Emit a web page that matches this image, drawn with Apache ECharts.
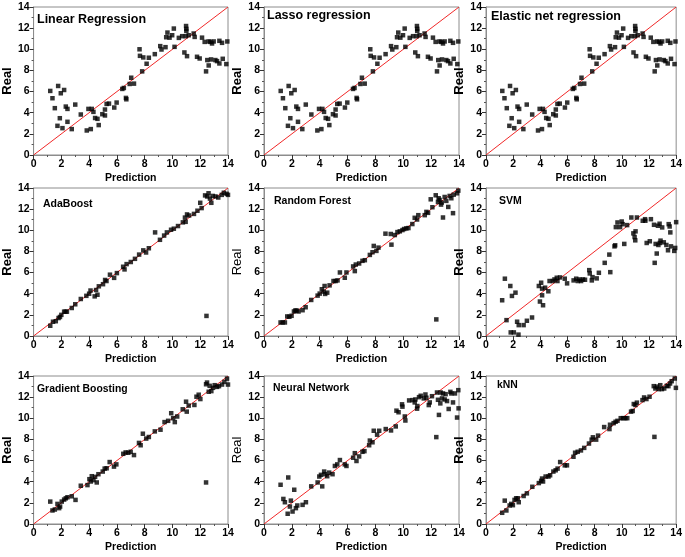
<!DOCTYPE html>
<html><head><meta charset="utf-8">
<script src="https://cdn.jsdelivr.net/npm/echarts@6/dist/echarts.min.js"></script>
<style>html,body{margin:0;padding:0;background:#fff}#c{width:685px;height:557px}</style>
</head><body><div id="c"></div>
<script>
const axisTicks = [0, 2, 4, 6, 8, 10, 12, 14];
const diagonal = [0, 14];

const linearX = [1.2,1.36,1.53,1.72,1.77,1.89,1.96,2.08,2.2,2.32,2.44,2.44,2.75,3.0,3.4,3.83,3.95,4.12,4.19,4.31,4.43,4.6,4.69,4.95,5.14,5.14,5.26,5.43,5.81,5.98,6.39,6.5,6.65,6.68,6.92,7.03,7.23,7.63,7.66,7.82,7.9,8.14,8.3,8.73,9.12,9.21,9.5,9.55,9.64,9.79,9.98,10.1,10.15,10.46,10.7,10.86,10.96,10.98,11.0,11.0,11.05,11.17,11.53,11.6,11.77,11.96,12.13,12.32,12.42,12.51,12.61,12.61,12.73,12.78,12.85,12.97,13.09,13.21,13.38,13.38,13.57,13.62,13.88,13.95];
const linearY = [6.06,5.37,4.43,2.76,6.53,3.48,5.84,2.54,6.15,4.58,4.36,3.14,2.45,4.77,3.83,2.32,4.36,2.45,4.36,4.08,3.5,3.42,2.83,3.86,3.74,4.3,4.83,4.86,4.49,4.96,6.25,6.34,5.4,5.27,6.72,7.31,6.75,10.0,9.38,7.91,9.23,8.63,9.2,9.54,10.3,9.98,10.2,11.14,11.58,11.1,11.33,11.96,10.23,11.08,11.24,9.7,11.24,12.2,11.93,11.74,9.35,11.33,11.49,11.17,9.29,9.13,11.1,10.7,7.91,8.98,10.74,8.47,10.7,9.04,10.55,10.74,8.98,8.88,10.8,8.66,10.61,9.1,8.6,10.74];
const lassoX = linearX;
const lassoY = linearY;
const elasticX = linearX;
const elasticY = linearY;

const adaX = [1.2,1.4,1.6,1.8,1.9,2.0,2.2,2.3,2.4,2.75,3.0,3.4,3.8,4.0,4.1,4.4,4.5,4.6,4.7,5.0,5.15,5.25,5.5,5.8,6.0,6.45,6.55,6.7,7.0,7.3,7.6,7.9,8.1,8.3,8.75,9.1,9.4,9.6,9.9,10.1,10.4,10.75,10.9,10.95,11.05,11.2,11.55,11.8,12.0,12.1,12.35,12.45,12.5,12.6,12.7,12.8,12.9,13.1,13.3,13.55,13.7,13.9,14.0];
const adaY = [0.97,1.35,1.4,1.7,1.8,2.0,2.3,2.3,2.3,2.65,3.0,3.5,3.8,4.0,4.3,3.75,4.35,3.9,4.7,4.9,5.3,5.2,5.8,5.5,5.95,6.55,6.3,6.8,7.0,7.3,7.7,8.1,7.9,8.3,9.8,9.1,9.5,9.8,10.05,10.15,10.4,10.75,11.2,10.8,11.5,11.4,11.55,11.85,12.6,12.1,13.3,1.9,13.2,13.5,13.0,12.6,13.25,13.2,13.1,13.35,13.55,13.45,13.35];

const rfX = [1.19,1.34,1.5,1.67,1.82,1.98,2.15,2.25,2.34,2.48,2.77,2.99,3.39,3.85,4.0,4.15,4.28,4.35,4.39,4.54,4.71,4.99,5.14,5.28,5.45,5.8,5.92,6.4,6.52,6.59,6.83,7.07,7.24,7.6,7.79,7.88,8.07,8.22,8.72,9.1,9.15,9.39,9.58,9.75,9.94,10.06,10.22,10.37,10.65,10.82,10.99,11.08,11.54,11.66,11.78,11.97,12.09,12.33,12.37,12.49,12.54,12.61,12.71,12.76,12.85,12.97,13.09,13.23,13.33,13.45,13.57,13.62,13.86,13.95];
const rfY = [1.28,1.28,1.28,1.85,1.82,1.91,2.32,2.41,2.41,2.32,2.44,2.72,3.41,3.82,4.01,4.42,4.2,4.73,3.98,4.1,4.79,5.2,5.2,5.26,6.01,5.51,6.01,6.58,6.14,6.76,6.86,7.11,7.17,7.67,7.92,8.52,8.05,8.36,9.68,9.65,8.64,9.55,9.83,9.9,10.02,10.12,10.18,10.21,10.59,11.18,11.02,11.43,11.43,11.74,11.65,12.93,12.18,13.31,1.57,12.68,13.03,12.87,12.43,12.62,11.21,13.15,12.78,12.21,13.25,13.03,11.62,13.37,13.5,13.75];

const svmX = [1.19,1.39,1.51,1.79,1.82,1.91,2.05,2.17,2.29,2.39,2.41,2.77,3.01,3.39,3.89,3.97,4.06,4.13,4.13,4.2,4.35,4.59,4.68,4.92,5.04,5.21,5.26,5.45,5.8,5.97,6.45,6.64,6.76,6.88,7.0,7.14,7.29,7.6,7.64,7.79,7.84,8.15,8.31,8.74,9.08,9.15,9.46,9.51,9.56,9.68,9.87,9.99,10.06,10.18,10.39,10.7,10.85,10.94,10.99,11.01,11.11,11.54,11.71,11.73,11.83,12.06,12.14,12.37,12.42,12.49,12.57,12.66,12.69,12.78,12.8,12.85,12.97,13.09,13.28,13.4,13.45,13.52,13.57,13.62,13.86,13.93,14.0];
const svmY = [3.38,5.42,1.5,4.73,0.34,3.79,0.34,4.1,1.35,0.13,1.03,1.03,1.44,1.75,4.73,3.26,5.04,4.48,3.85,2.91,4.57,4.23,5.2,5.2,5.35,5.51,5.2,5.54,5.42,4.98,5.26,5.42,5.2,5.35,5.2,5.35,5.32,6.23,5.92,5.26,5.57,5.45,5.98,6.92,7.7,6.04,8.48,8.58,10.3,10.74,10.3,10.83,10.58,8.71,10.49,11.21,9.71,9.36,9.05,9.9,11.21,10.9,11.05,10.9,8.8,8.96,11.05,10.52,6.92,8.71,7.8,10.43,8.61,10.62,8.8,9.02,10.27,8.86,8.61,8.11,10.58,10.36,9.8,8.48,8.05,8.33,10.77];

const gbX = [1.2,1.36,1.53,1.72,1.84,1.91,2.03,2.2,2.32,2.44,2.75,3.02,3.4,3.88,4.02,4.12,4.19,4.31,4.43,4.55,4.67,4.98,5.12,5.26,5.48,5.79,5.96,6.46,6.63,6.82,6.99,7.23,7.59,7.71,7.87,8.11,8.3,8.73,9.14,9.43,9.69,9.91,10.05,10.17,10.34,10.74,10.98,11.03,11.17,11.58,11.73,11.89,12.01,12.42,12.42,12.49,12.61,12.68,12.8,12.92,13.04,13.21,13.35,13.57,13.74,13.93,14.0];
const gbY = [2.12,1.28,1.37,1.9,1.5,1.65,2.12,2.31,2.43,2.53,2.62,2.28,3.62,3.68,4.24,4.02,4.52,4.15,4.46,3.93,4.71,4.96,5.24,5.27,5.86,5.43,5.64,6.64,6.77,6.74,6.83,6.52,7.67,7.45,8.54,8.08,8.23,8.76,8.92,9.64,9.76,10.48,10.01,9.64,10.17,10.85,11.57,10.63,11.2,11.26,12.04,12.23,11.82,13.22,3.93,13.38,12.51,13.07,12.57,12.88,13.13,12.97,13.04,13.19,13.44,13.75,13.19];

const nnX = [1.19,1.39,1.5,1.74,1.7,1.86,1.93,2.05,2.17,2.29,2.39,2.77,3.01,3.39,3.85,3.97,4.09,4.18,4.32,4.37,4.54,4.68,4.92,5.09,5.26,5.45,5.8,5.92,6.4,6.52,6.64,6.83,7.07,7.21,7.55,7.6,7.79,7.88,8.12,8.27,8.74,9.12,9.46,9.51,9.66,9.91,9.94,10.11,10.15,10.42,10.66,10.82,10.87,10.99,11.01,11.13,11.25,11.47,11.59,11.66,11.83,11.9,12.06,12.37,12.42,12.49,12.56,12.66,12.68,12.78,12.85,12.97,13.04,13.14,13.26,13.38,13.45,13.57,13.71,13.86,13.95,13.97];
const nnY = [3.71,2.37,2.06,4.4,0.97,1.65,2.21,1.18,3.24,1.5,1.75,1.81,2.06,3.56,3.93,4.49,4.65,3.56,4.96,4.71,4.52,4.86,4.71,5.49,5.64,6.05,5.64,5.49,6.27,6.7,5.96,6.39,6.83,6.89,7.45,7.89,7.73,8.82,8.45,8.82,8.98,8.85,9.23,10.72,10.57,11.32,11.1,10.17,9.79,11.69,11.72,11.5,11.78,10.91,11.16,12.0,12.13,11.88,12.25,11.94,11.25,11.5,12.09,8.22,12.44,11.75,10.32,11.41,12.44,11.88,12.35,11.78,12.28,11.63,10.88,12.5,12.35,11.5,12.35,10.07,12.66,10.94];

const knnX = [1.19,1.38,1.5,1.74,1.86,1.98,2.1,2.22,2.34,2.41,2.77,3.01,3.41,3.89,4.06,4.13,4.2,4.39,4.6,4.72,4.96,5.13,5.27,5.46,5.8,5.96,6.44,6.56,6.75,6.99,7.23,7.58,7.78,7.87,8.11,8.25,8.7,9.09,9.13,9.4,9.54,9.68,9.92,10.09,10.26,10.4,10.68,10.8,10.88,11.0,11.11,11.52,11.64,11.81,12.04,12.35,12.4,12.47,12.59,12.71,12.83,12.95,13.12,13.31,13.43,13.55,13.67,13.9,13.98];
const knnY = [1.06,2.21,1.28,1.75,1.9,1.78,2.28,2.43,2.43,2.06,2.65,2.9,3.52,3.87,4.08,4.3,4.02,4.49,4.49,4.61,4.96,5.08,5.24,5.86,5.55,5.55,6.36,6.74,6.83,6.96,7.2,7.61,7.98,8.2,7.98,8.36,9.17,8.98,9.39,9.54,9.67,9.76,10.01,10.01,10.01,10.01,10.63,10.69,11.35,11.26,11.48,11.72,11.97,11.82,12.04,13.04,8.24,12.82,13.0,12.76,13.13,12.76,12.82,13.07,13.04,13.29,13.51,13.76,12.88];

const panelTitles = ['Linear Regression','Lasso regression','Elastic net regression','AdaBoost','Random Forest','SVM','Gradient Boosting','Neural Network','kNN'];
const panelData = [[linearX,linearY],[lassoX,lassoY],[elasticX,elasticY],[adaX,adaY],[rfX,rfY],[svmX,svmY],[gbX,gbY],[nnX,nnY],[knnX,knnY]];

// layout
const colLeft = [33, 264, 486];
const rowTop = [7, 188, 376];
const gridW = 195, gridH = 148;
const realGap = [19, 18, 11];
const realBold = [true,true,true,true,false,true,true,false,true];
const titlePos = [[37,20,12.5],[267,16,12.5],[491,17,12.5],[43,204,10.5],[274,201,10.5],[499,201,10.5],[37,389,10.4],[273,388,10.4],[497,385,10.4]];
const FONT = '"Liberation Sans", Arial, sans-serif';

const grids = [], xAxes = [], yAxes = [], series = [], titles = [];
for (let i = 0; i < 9; i++) {
  const r = Math.floor(i / 3), c = i % 3;
  grids.push({left: colLeft[c], top: rowTop[r], width: gridW, height: gridH, show: true, borderColor: '#8c8c8c', borderWidth: 1, containLabel: false});
  const common = {
    gridIndex: i, type: 'value', min: axisTicks[0], max: axisTicks[axisTicks.length-1], interval: 2,
    axisLine: {show: true, lineStyle: {color: '#8c8c8c', width: 1}},
    axisTick: {show: true, length: 4, lineStyle: {color: '#333', width: 1}},
    minorTick: {show: true, splitNumber: 2, length: 2, lineStyle: {color: '#555'}},
    splitLine: {show: false},
    axisLabel: {color: '#000', fontWeight: 'bold', fontSize: 10.5, fontFamily: FONT, margin: 4},
    nameLocation: 'middle'
  };
  xAxes.push(Object.assign({}, common, {
    name: 'Prediction', nameGap: 18,
    nameTextStyle: {color: '#000', fontWeight: 'bold', fontSize: 10.5, fontFamily: FONT}
  }));
  yAxes.push(Object.assign({}, common, {
    name: 'Real', nameGap: realGap[c],
    nameTextStyle: {color: '#000', fontWeight: realBold[i] ? 'bold' : 'normal', fontSize: 13, fontFamily: FONT}
  }));
  const [xs, ys] = panelData[i];
  series.push({
    type: 'line', xAxisIndex: i, yAxisIndex: i, data: diagonal.map(v => [v, v]),
    symbol: 'none', silent: true, lineStyle: {color: '#f02828', width: 1}, z: 1, animation: false
  });
  series.push({
    type: 'scatter', xAxisIndex: i, yAxisIndex: i, data: xs.map((x, k) => [x, ys[k]]),
    symbol: 'rect', symbolSize: 4.5, itemStyle: {color: '#000'}, z: 2, animation: false
  });
  titles.push({
    text: panelTitles[i], left: titlePos[i][0], top: titlePos[i][1] - titlePos[i][2] * 0.5, padding: 0,
    textStyle: {color: '#000', fontWeight: 'bold', fontSize: titlePos[i][2], fontFamily: FONT, lineHeight: titlePos[i][2]}
  });
}

const chart = echarts.init(document.getElementById('c'), null, {renderer: 'canvas'});
chart.setOption({
  animation: false,
  backgroundColor: '#fff',
  title: titles,
  grid: grids,
  xAxis: xAxes,
  yAxis: yAxes,
  series: series
});
</script>
</body></html>
